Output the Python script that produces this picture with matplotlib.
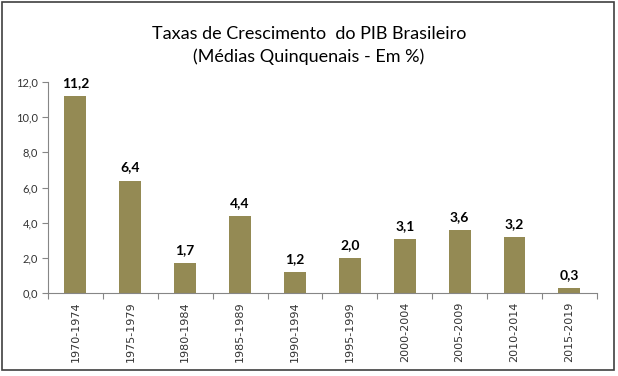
import matplotlib.pyplot as plt
import numpy as np
from matplotlib.patches import Rectangle

plt.rcParams["font.family"] = ["Lato", "DejaVu Sans"]

periods = ["1970-1974", "1975-1979", "1980-1984", "1985-1989", "1990-1994",
           "1995-1999", "2000-2004", "2005-2009", "2010-2014", "2015-2019"]
growth = [11.2, 6.4, 1.7, 4.4, 1.2, 2.0, 3.1, 3.6, 3.2, 0.3]
y_ticks = [0, 2, 4, 6, 8, 10, 12]

bar_color = "#948A54"
axis_color = "#868686"

fig = plt.figure(figsize=(6.18, 3.76), dpi=100)
ax = fig.add_axes([0.0777, 0.2207, 0.888, 0.561])

x = np.arange(len(periods))
ax.bar(x, growth, width=0.4, color=bar_color, zorder=2)

for xi, v in zip(x, growth):
    ax.annotate(f"{v:.1f}".replace(".", ","), (xi, v), xytext=(0, 5),
                textcoords="offset points", ha="center", va="bottom",
                fontsize=10, fontweight="bold", color="black")

ax.set_xlim(-0.5, len(periods) - 0.5)
ax.set_ylim(0, 12)
ax.set_yticks(y_ticks)
ax.set_yticklabels([f"{t:.1f}".replace(".", ",") for t in y_ticks],
                   fontsize=8, color="#333333")

# ticks between categories, labels at the centres
ax.set_xticks(np.arange(-0.5, len(periods) + 0.5, 1.0))
ax.set_xticklabels([])
ax.set_xticks(x, minor=True)
ax.set_xticklabels(periods, minor=True, rotation=90, fontsize=8,
                   color="#333333", family="DejaVu Sans")
ax.tick_params(axis="x", which="minor", length=0, pad=6)
ax.tick_params(axis="x", which="major", length=4, color=axis_color)
ax.tick_params(axis="y", length=4, color=axis_color, pad=3)

for side in ["top", "right"]:
    ax.spines[side].set_visible(False)
for side in ["left", "bottom"]:
    ax.spines[side].set_color(axis_color)

fig.text(0.5, 0.91, "Taxas de Crescimento  do PIB Brasileiro",
         ha="center", va="center", fontsize=13)
fig.text(0.5, 0.848, "(Médias Quinquenais - Em %)",
         ha="center", va="center", fontsize=13)

fig.patches.append(Rectangle((0.004, 0.016), 0.99, 0.978, transform=fig.transFigure,
                             fill=False, edgecolor="#404040", linewidth=1.2))

fig.savefig("out.png", dpi=100)
